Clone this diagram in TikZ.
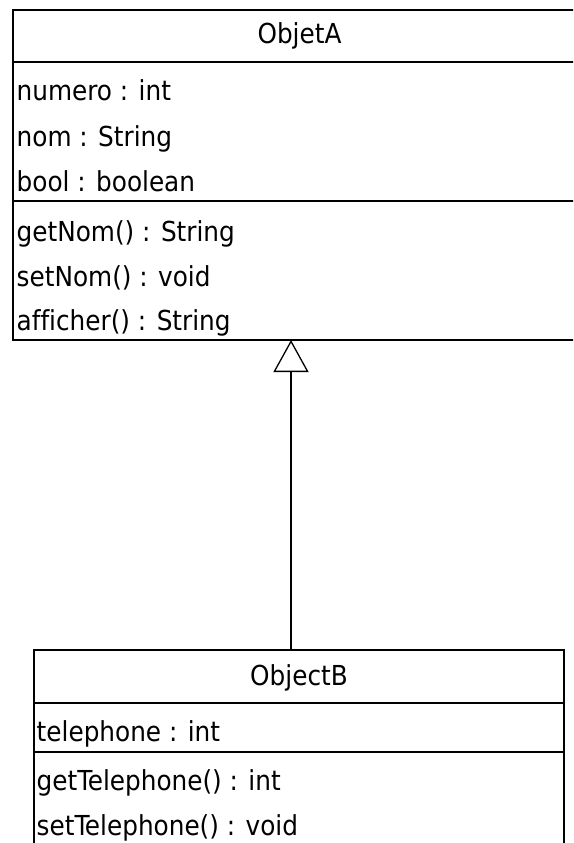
\documentclass[tikz,border=0pt]{standalone}
\usepackage{fontspec}
\setmainfont[Ligatures=NoCommon]{DejaVu Sans Condensed}
\usetikzlibrary{arrows.meta}
\tikzset{
  classbox/.style={draw=black, line width=2.4pt, fill=white, rectangle, inner sep=0pt, outer sep=0pt, anchor=north west},
  sepline/.style={draw=black, line width=2.4pt},
  member/.style={inner sep=0pt, anchor=base west, font=\fontsize{27.5}{32}\selectfont},
  title/.style={inner sep=0pt, anchor=base, font=\fontsize{27.5}{32}\selectfont},
  inherit/.style={line width=1.4pt, -{Triangle[open, length=32pt 0, width=35pt 0, line width=1.3pt]}}
}
\begin{document}
\begin{tikzpicture}[x=1pt, y=1pt]
\useasboundingbox (0,0) rectangle (573,-843);
\fill[white] (0,0) rectangle (573,-843);
\clip (0,0) rectangle (573,-843);

% Class A
\node[classbox, minimum width=600pt, minimum height=330pt] (A) at (12.8,-10) {};
\draw[sepline] ([yshift=-52pt]A.north west) -- ([yshift=-52pt]A.north east);
\draw[sepline] ([yshift=-191pt]A.north west) -- ([yshift=-191pt]A.north east);
\node[title] (tA) at (299.5,-43.5) {ObjetA};
\node[member] (a1) at (16.5,-100.5) {numero : int};
\node[member] (a2) at (16.5,-146) {nom : String};
\node[member] (a3) at (16.5,-191) {bool : boolean};
\node[member] (m1) at (16.5,-241.5) {getNom() : String};
\node[member] (m2) at (16.5,-286) {setNom() : void};
\node[member] (m3) at (16.5,-330.5) {afficher() : String};

% Class B
\node[classbox, minimum width=530pt, minimum height=230pt] (B) at (34,-650) {};
\draw[sepline] ([yshift=-53pt]B.north west) -- ([yshift=-53pt]B.north east);
\draw[sepline] ([yshift=-102pt]B.north west) -- ([yshift=-102pt]B.north east);
\node[title] (tB) at (299,-685) {ObjectB};
\node[member] (b1) at (36.5,-741.5) {telephone : int};
\node[member] (n1) at (36.5,-790) {getTelephone() : int};
\node[member] (n2) at (36.5,-835) {setTelephone() : void};

% Generalization
\coordinate (cx) at (291,0);
\draw[inherit] (B.north -| cx) -- (A.south -| cx);
\end{tikzpicture}
\end{document}
